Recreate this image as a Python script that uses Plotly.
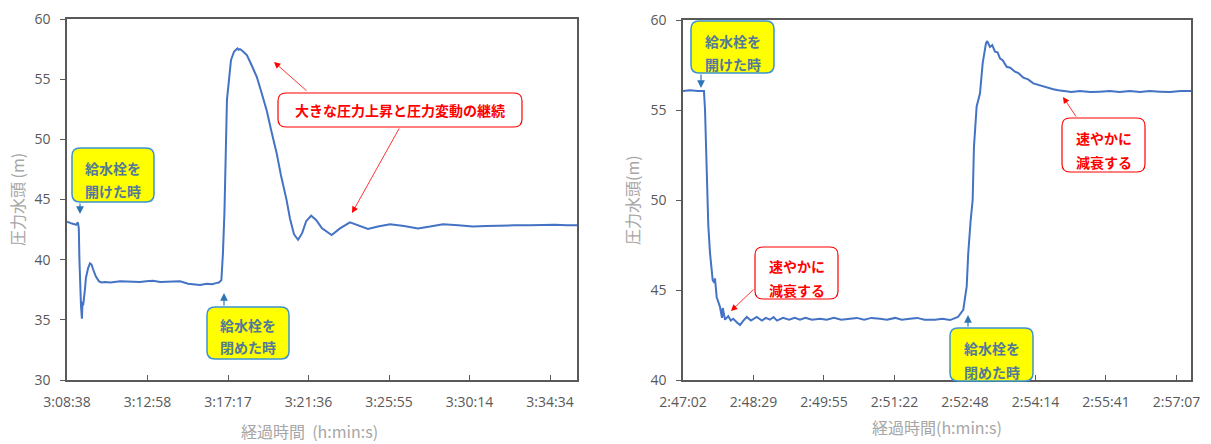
import plotly.graph_objects as go

# ---------------- data ----------------
# Left chart: elapsed seconds from 3:08:38, pressure head (m)
left_t = [0, 8, 16, 24, 29, 35, 38, 40, 42, 45, 48, 50, 52, 55, 58, 61, 64, 68, 74, 79, 84, 93, 103,
          112, 122, 140, 171, 200, 235, 255, 277, 300, 332, 350, 364, 390, 410, 428, 450, 467, 480, 489,
          497, 502, 507, 511, 515, 521, 528, 538, 545, 549, 553, 557, 567, 579, 592, 611, 625, 643, 657,
          675, 689, 707, 718, 731, 744, 757, 770, 786, 802, 821, 852, 879, 911, 937, 969, 1001, 1040,
          1085, 1130, 1169, 1211, 1259, 1307, 1350, 1394, 1440, 1491, 1530, 1571, 1610, 1642]
left_v = [43.15, 43.05, 43.0, 42.95, 42.9, 43.1, 42.6, 40.0, 38.2, 36.2, 35.1, 36.5, 36.2, 36.8, 37.6,
          38.5, 38.9, 39.3, 39.7, 39.6, 39.2, 38.6, 38.2, 38.1, 38.15, 38.1, 38.2, 38.15, 38.15, 38.2,
          38.25, 38.15, 38.15, 38.2, 38.2, 38.0, 37.95, 37.9, 38.0, 37.95, 38.05, 38.1,
          38.3, 40.5, 44.0, 50.0, 53.3, 54.8, 56.6, 57.3, 57.5, 57.55, 57.45, 57.5, 57.3, 57.0, 56.3,
          55.2, 54.0, 52.4, 50.8, 48.85, 47.0, 44.95, 43.4, 42.1, 41.65, 42.2, 43.2, 43.65, 43.3, 42.6,
          42.05, 42.6, 43.1, 42.85, 42.55, 42.75, 42.95, 42.8, 42.6, 42.75, 42.95, 42.85, 42.75, 42.8,
          42.85, 42.85, 42.85, 42.9, 42.9, 42.85, 42.85]

# Right chart: elapsed seconds from 2:47:02, pressure head (m)
right_t = [0, 8.6, 18.4, 25.7, 27.0, 28.2, 29.8, 31.0, 33.1, 36.4, 38.4, 39.2, 41.3, 45.3, 47.8, 48.7,
           51.5, 55.5, 58.5, 61.6, 66.2, 69.9, 74.0, 78.1, 83.3, 90.3, 96.8, 101.5, 106.6, 111.0, 115.2,
           122.6, 130.0, 137.0, 143.4, 150.0, 158.0, 167.9, 176.0, 185.0, 194.0, 204.7, 213.0, 222.0,
           231.0, 241.4, 250.0, 260.0, 268.0, 278.2, 287.0, 296.0, 308.8, 318.0, 327.2, 337.0, 343.5,
           347.7, 349.6, 352.6, 355.0, 356.6, 359.9, 364.0, 367.3, 371.3, 372.9, 376.2, 379.0, 382.4,
           385.5, 388.5, 392.0, 396.7, 401.0, 406.9, 411.0, 417.0, 423.0, 429.3, 435.0, 441.5, 447.0,
           453.8, 460.0, 466.1, 476.0, 486.5, 499.0, 511.0, 523.0, 535.0, 547.8, 560.0, 572.0, 584.6,
           597.0, 610.0, 622.6]
right_v = [56.05, 56.1, 56.05, 56.05, 55.0, 53.2, 50.0, 48.6, 47.05, 45.55, 45.4, 45.65, 44.6, 44.07,
           43.45, 44.0, 43.35, 43.55, 43.3, 43.4, 43.2, 43.05, 43.3, 43.5, 43.3, 43.5, 43.3, 43.45, 43.35,
           43.5, 43.3, 43.45, 43.35, 43.45, 43.35, 43.45, 43.35, 43.4, 43.35, 43.45, 43.35, 43.4, 43.45,
           43.35, 43.45, 43.4, 43.35, 43.45, 43.35, 43.4, 43.45, 43.35, 43.35, 43.4, 43.33, 43.5, 43.9,
           45.2, 47.05, 48.9, 50.0, 52.96, 55.2, 55.93, 57.6, 58.7, 58.83, 58.5, 58.6, 58.24, 58.2, 57.87,
           57.75, 57.4, 57.35, 57.13, 57.05, 56.8, 56.7, 56.48, 56.4, 56.3, 56.25, 56.15, 56.1, 56.07,
           56.0, 56.05, 56.0, 56.02, 56.05, 56.0, 56.05, 56.0, 56.05, 56.02, 56.0, 56.05, 56.05]

left_ticks = ["3:08:38", "3:12:58", "3:17:17", "3:21:36", "3:25:55", "3:30:14", "3:34:34"]
right_ticks = ["2:47:02", "2:48:29", "2:49:55", "2:51:22", "2:52:48", "2:54:14", "2:55:41", "2:57:07"]
left_step = 259.2   # seconds between labels (0.003 day)
right_step = 86.4   # seconds between labels (0.001 day)

# ---------------- layout helpers ----------------
W, H = 1211, 444
def px(x):
    return x / W
def py(y):
    return 1 - y / H

LINE = "#4472C4"
AX = "#595959"
TICKFONT = dict(family="Open Sans, Liberation Sans, sans-serif", size=14, color="#595959")
TITLEFONT = dict(family="Noto Sans CJK JP, sans-serif", size=16, color="#A6A6A6")
JP = "Noto Sans CJK JP, sans-serif"

fig = go.Figure()
fig.add_trace(go.Scatter(x=left_t, y=left_v, mode="lines", line=dict(color=LINE, width=2),
                         xaxis="x", yaxis="y", showlegend=False, hoverinfo="skip"))
fig.add_trace(go.Scatter(x=right_t, y=right_v, mode="lines", line=dict(color=LINE, width=2),
                         xaxis="x2", yaxis="y2", showlegend=False, hoverinfo="skip"))

common_x = dict(showline=True, linecolor=AX, linewidth=1.5, mirror=True, showgrid=False,
                zeroline=False, ticks="inside", ticklen=5, tickcolor=AX, tickwidth=1.2,
                tickfont=TICKFONT, ticklabelstandoff=8, automargin=False)
common_y = dict(showline=True, linecolor=AX, linewidth=1.5, mirror=True, showgrid=False,
                zeroline=False, ticks="outside", ticklen=5, tickcolor=AX, tickwidth=1.2,
                tickfont=TICKFONT, ticklabelstandoff=7, automargin=False)

fig.update_layout(
    width=W, height=H, margin=dict(l=0, r=0, t=0, b=0, pad=0), autosize=False,
    paper_bgcolor="white", plot_bgcolor="white",
    xaxis=dict(domain=[px(67), px(577)], anchor="y", range=[0, 1642],
               tickvals=[i * left_step for i in range(len(left_ticks))], ticktext=left_ticks,
               **common_x),
    yaxis=dict(domain=[py(380), py(19)], anchor="x", range=[30, 60], tickvals=[30, 35, 40, 45, 50, 55, 60],
               **common_y),
    xaxis2=dict(domain=[px(683), px(1191)], anchor="y2", range=[0, 622.6],
                tickvals=[i * right_step for i in range(len(right_ticks))], ticktext=right_ticks,
                **common_x),
    yaxis2=dict(domain=[py(380), py(20)], anchor="x2", range=[40, 60], tickvals=[40, 45, 50, 55, 60],
                **common_y),
)

annotations = []
shapes = []

# axis titles
def text(x, y, s, font, angle=0, xanchor="center"):
    annotations.append(dict(xref="paper", yref="paper", x=px(x), y=py(y), text=s, showarrow=False,
                            font=font, textangle=angle, xanchor=xanchor, yanchor="middle"))

text(17, 200, "圧力水頭 (m)", TITLEFONT, angle=-90)
text(310, 431, "経過時間  (h:min:s)", TITLEFONT)
text(632, 200, "圧力水頭(m)", TITLEFONT, angle=-90)
text(937, 427, "経過時間(h:min:s)", TITLEFONT)

def rrect(x0, y0, x1, y1, fill, line, lw, r=8):
    path = (f"M {px(x0 + r)},{py(y0)} L {px(x1 - r)},{py(y0)} Q {px(x1)},{py(y0)} {px(x1)},{py(y0 + r)} "
            f"L {px(x1)},{py(y1 - r)} Q {px(x1)},{py(y1)} {px(x1 - r)},{py(y1)} "
            f"L {px(x0 + r)},{py(y1)} Q {px(x0)},{py(y1)} {px(x0)},{py(y1 - r)} "
            f"L {px(x0)},{py(y0 + r)} Q {px(x0)},{py(y0)} {px(x0 + r)},{py(y0)} Z")
    shapes.append(dict(type="path", xref="paper", yref="paper", path=path, fillcolor=fill,
                       line=dict(color=line, width=lw), layer="above"))

def arrow(tx, ty, hx, hy, color, width=1, size=1.2):
    annotations.append(dict(xref="paper", yref="paper", x=px(hx), y=py(hy), ax=tx - hx, ay=ty - hy,
                            axref="pixel", ayref="pixel", text="", showarrow=True, arrowhead=2,
                            arrowsize=size, arrowwidth=width, arrowcolor=color))

YEL_FONT = dict(family=JP, size=14, color="#52799A", weight="bold")
RED_FONT = dict(family=JP, size=14, color="#FF0000", weight="bold")
YEL_BORDER = "#3D94CF"

def ybox(x0, y0, x1, y1, l1, l2, ty1, ty2):
    rrect(x0, y0, x1, y1, "#FFFF00", YEL_BORDER, 1.5)
    text((x0 + x1) / 2, ty1, l1, YEL_FONT)
    text((x0 + x1) / 2, ty2, l2, YEL_FONT)

def rbox(x0, y0, x1, y1, l1, l2, ty1, ty2):
    rrect(x0, y0, x1, y1, "white", "#FF0000", 1.2)
    text((x0 + x1) / 2, ty1, l1, RED_FONT)
    if l2:
        text((x0 + x1) / 2, ty2, l2, RED_FONT)

# left chart annotations
ybox(72, 148, 154, 202, "給水栓を", "開けた時", 168, 191)
arrow(80, 202, 80, 214, "#2E75B6", 1.2, 1.3)
ybox(207, 307, 289, 359, "給水栓を", "閉めた時", 325, 347)
arrow(224, 307, 224, 293, "#2E75B6", 1.2, 1.3)
rbox(278, 93, 522, 127, "大きな圧力上昇と圧力変動の継続", None, 110, None)
arrow(308, 92, 274, 62, "#FF0000", 0.8, 1.6)
arrow(400, 127, 352, 213, "#FF0000", 0.8, 1.6)

# right chart annotations
ybox(691, 21, 774, 73, "給水栓を", "開けた時", 41, 64)
arrow(701, 73, 701, 88, "#2E75B6", 1.2, 1.3)
rbox(755, 247, 838, 299, "速やかに", "減衰する", 266, 290)
arrow(755, 288, 731, 311, "#FF0000", 0.8, 1.6)
rbox(1062, 118, 1145, 172, "速やかに", "減衰する", 138, 162)
arrow(1077, 118, 1063, 97, "#FF0000", 0.8, 1.6)
ybox(950, 328, 1033, 381, "給水栓を", "閉めた時", 348, 372)
arrow(968, 328, 968, 315, "#2E75B6", 1.2, 1.3)

fig.update_layout(annotations=annotations, shapes=shapes)
fig.write_html("out.html", config={"displayModeBar": False},
               post_script="document.body.style.margin='0';document.body.style.overflow='hidden';")
